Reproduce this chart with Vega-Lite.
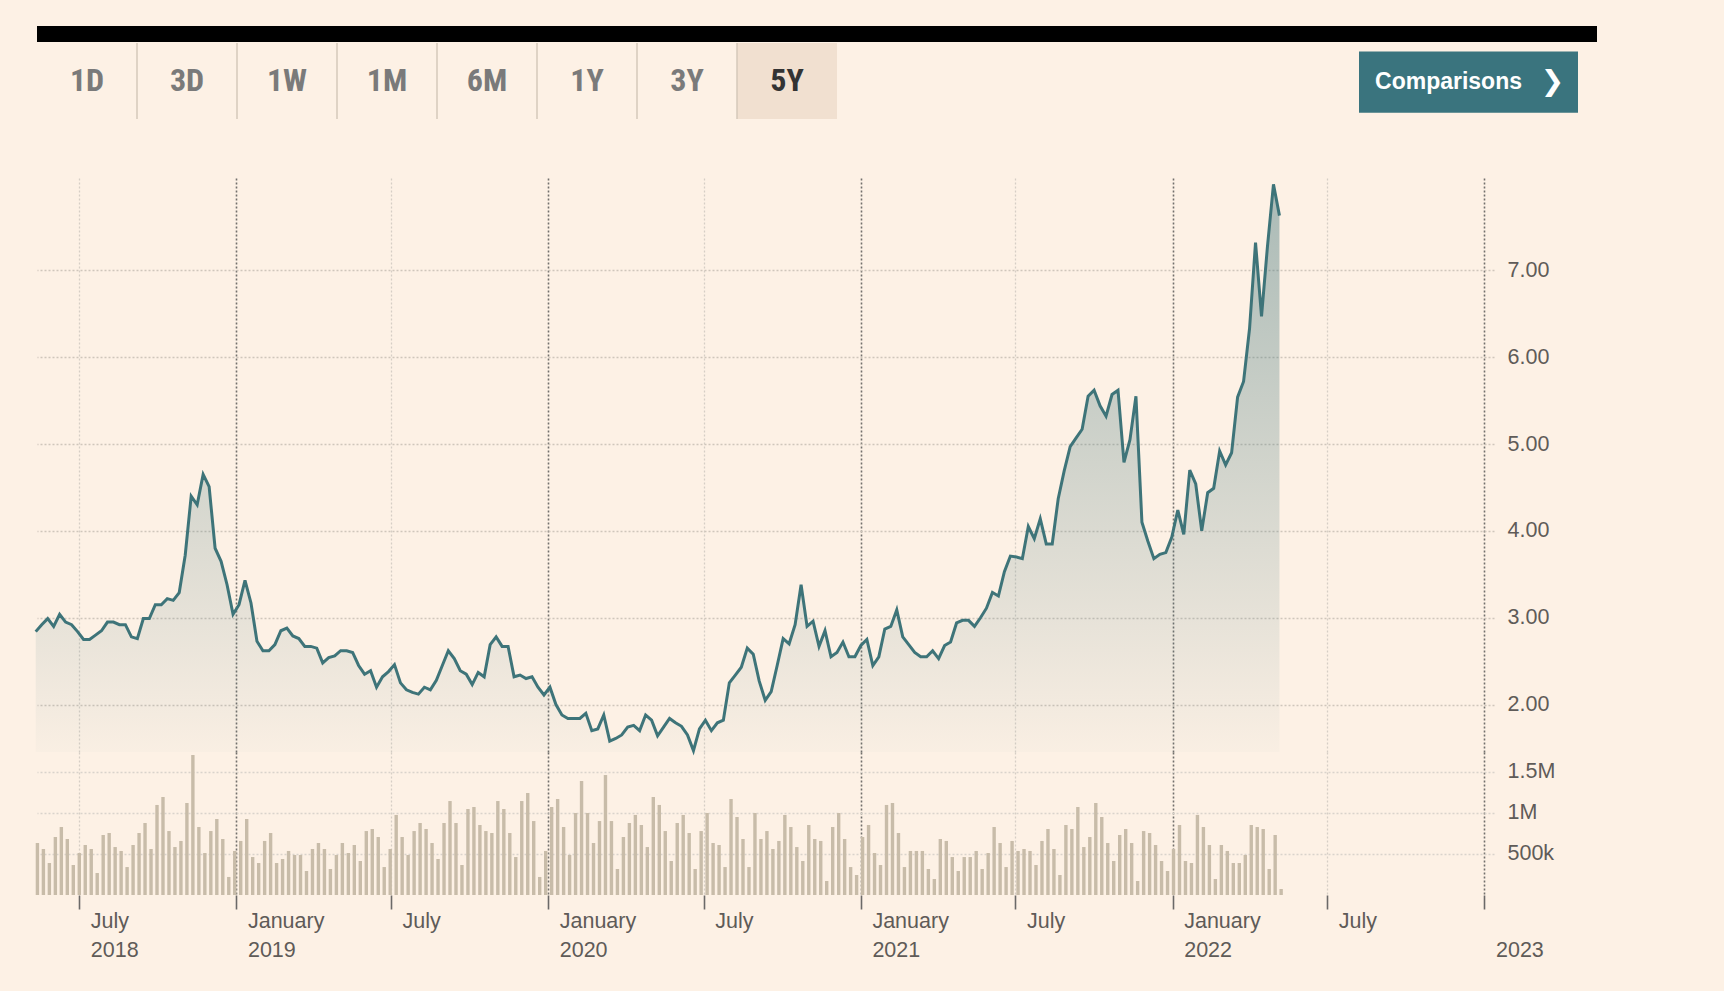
{
"$schema": "https://vega.github.io/schema/vega-lite/v6.json",
"background": "#fdf1e5",
"padding": {"left": 29, "top": 26, "right": 135, "bottom": 30},
"config": {"view": {"stroke": null}, "font": "Liberation Sans"},
"datasets": {
"header": [{"part": "bar"}],
"button": [{"label": "Comparisons", "icon": "❯"}],
"tabs": [
{"tab": "1D", "selected": false}, {"tab": "3D", "selected": false}, {"tab": "1W", "selected": false}, {"tab": "1M", "selected": false},
{"tab": "6M", "selected": false}, {"tab": "1Y", "selected": false}, {"tab": "3Y", "selected": false}, {"tab": "5Y", "selected": true}
],
"prices": [
{"date":"2018-05-11","price":2.84,"volume":634000},
{"date":"2018-05-18","price":2.92,"volume":561000},
{"date":"2018-05-25","price":2.99,"volume":390000},
{"date":"2018-06-01","price":2.90,"volume":707000},
{"date":"2018-06-08","price":3.04,"volume":829000},
{"date":"2018-06-15","price":2.95,"volume":683000},
{"date":"2018-06-22","price":2.92,"volume":366000},
{"date":"2018-06-29","price":2.84,"volume":512000},
{"date":"2018-07-06","price":2.75,"volume":610000},
{"date":"2018-07-13","price":2.75,"volume":561000},
{"date":"2018-07-20","price":2.80,"volume":268000},
{"date":"2018-07-27","price":2.85,"volume":732000},
{"date":"2018-08-03","price":2.95,"volume":756000},
{"date":"2018-08-10","price":2.95,"volume":585000},
{"date":"2018-08-17","price":2.92,"volume":537000},
{"date":"2018-08-24","price":2.92,"volume":341000},
{"date":"2018-08-31","price":2.78,"volume":610000},
{"date":"2018-09-07","price":2.76,"volume":756000},
{"date":"2018-09-14","price":2.99,"volume":878000},
{"date":"2018-09-21","price":2.99,"volume":561000},
{"date":"2018-09-28","price":3.15,"volume":1098000},
{"date":"2018-10-05","price":3.15,"volume":1195000},
{"date":"2018-10-12","price":3.22,"volume":780000},
{"date":"2018-10-19","price":3.20,"volume":585000},
{"date":"2018-10-26","price":3.29,"volume":659000},
{"date":"2018-11-02","price":3.72,"volume":1122000},
{"date":"2018-11-09","price":4.40,"volume":1707000},
{"date":"2018-11-16","price":4.30,"volume":829000},
{"date":"2018-11-23","price":4.65,"volume":512000},
{"date":"2018-11-30","price":4.51,"volume":780000},
{"date":"2018-12-07","price":3.80,"volume":927000},
{"date":"2018-12-14","price":3.65,"volume":683000},
{"date":"2018-12-21","price":3.38,"volume":220000},
{"date":"2018-12-28","price":3.04,"volume":537000},
{"date":"2019-01-04","price":3.15,"volume":659000},
{"date":"2019-01-11","price":3.43,"volume":927000},
{"date":"2019-01-18","price":3.17,"volume":463000},
{"date":"2019-01-25","price":2.73,"volume":390000},
{"date":"2019-02-01","price":2.62,"volume":659000},
{"date":"2019-02-08","price":2.62,"volume":756000},
{"date":"2019-02-15","price":2.69,"volume":390000},
{"date":"2019-02-22","price":2.85,"volume":439000},
{"date":"2019-03-01","price":2.88,"volume":537000},
{"date":"2019-03-08","price":2.79,"volume":488000},
{"date":"2019-03-15","price":2.76,"volume":488000},
{"date":"2019-03-22","price":2.67,"volume":293000},
{"date":"2019-03-29","price":2.67,"volume":561000},
{"date":"2019-04-05","price":2.65,"volume":634000},
{"date":"2019-04-12","price":2.48,"volume":561000},
{"date":"2019-04-19","price":2.54,"volume":317000},
{"date":"2019-04-26","price":2.56,"volume":488000},
{"date":"2019-05-03","price":2.62,"volume":634000},
{"date":"2019-05-10","price":2.62,"volume":512000},
{"date":"2019-05-17","price":2.60,"volume":610000},
{"date":"2019-05-24","price":2.45,"volume":415000},
{"date":"2019-05-31","price":2.35,"volume":780000},
{"date":"2019-06-07","price":2.39,"volume":805000},
{"date":"2019-06-14","price":2.20,"volume":707000},
{"date":"2019-06-21","price":2.32,"volume":341000},
{"date":"2019-06-28","price":2.38,"volume":561000},
{"date":"2019-07-05","price":2.46,"volume":976000},
{"date":"2019-07-12","price":2.25,"volume":707000},
{"date":"2019-07-19","price":2.17,"volume":488000},
{"date":"2019-07-26","price":2.14,"volume":780000},
{"date":"2019-08-02","price":2.12,"volume":878000},
{"date":"2019-08-09","price":2.20,"volume":805000},
{"date":"2019-08-16","price":2.17,"volume":634000},
{"date":"2019-08-23","price":2.28,"volume":439000},
{"date":"2019-08-30","price":2.45,"volume":878000},
{"date":"2019-09-06","price":2.62,"volume":1146000},
{"date":"2019-09-13","price":2.53,"volume":878000},
{"date":"2019-09-20","price":2.39,"volume":366000},
{"date":"2019-09-27","price":2.35,"volume":1049000},
{"date":"2019-10-04","price":2.23,"volume":1073000},
{"date":"2019-10-11","price":2.37,"volume":854000},
{"date":"2019-10-18","price":2.32,"volume":780000},
{"date":"2019-10-25","price":2.69,"volume":756000},
{"date":"2019-11-01","price":2.78,"volume":1146000},
{"date":"2019-11-08","price":2.67,"volume":1049000},
{"date":"2019-11-15","price":2.67,"volume":756000},
{"date":"2019-11-22","price":2.32,"volume":463000},
{"date":"2019-11-29","price":2.34,"volume":1146000},
{"date":"2019-12-06","price":2.30,"volume":1244000},
{"date":"2019-12-13","price":2.32,"volume":902000},
{"date":"2019-12-20","price":2.20,"volume":220000},
{"date":"2019-12-27","price":2.11,"volume":537000},
{"date":"2020-01-03","price":2.20,"volume":1073000},
{"date":"2020-01-10","price":2.00,"volume":1171000},
{"date":"2020-01-17","price":1.88,"volume":829000},
{"date":"2020-01-24","price":1.84,"volume":488000},
{"date":"2020-01-31","price":1.84,"volume":1000000},
{"date":"2020-02-07","price":1.84,"volume":1390000},
{"date":"2020-02-14","price":1.90,"volume":1000000},
{"date":"2020-02-21","price":1.70,"volume":634000},
{"date":"2020-02-28","price":1.72,"volume":902000},
{"date":"2020-03-06","price":1.88,"volume":1463000},
{"date":"2020-03-13","price":1.58,"volume":902000},
{"date":"2020-03-20","price":1.61,"volume":317000},
{"date":"2020-03-27","price":1.65,"volume":707000},
{"date":"2020-04-03","price":1.74,"volume":878000},
{"date":"2020-04-10","price":1.76,"volume":976000},
{"date":"2020-04-17","price":1.70,"volume":854000},
{"date":"2020-04-24","price":1.88,"volume":585000},
{"date":"2020-05-01","price":1.82,"volume":1195000},
{"date":"2020-05-08","price":1.64,"volume":1098000},
{"date":"2020-05-15","price":1.74,"volume":780000},
{"date":"2020-05-22","price":1.84,"volume":415000},
{"date":"2020-05-29","price":1.79,"volume":878000},
{"date":"2020-06-05","price":1.75,"volume":976000},
{"date":"2020-06-12","price":1.65,"volume":756000},
{"date":"2020-06-19","price":1.47,"volume":317000},
{"date":"2020-06-26","price":1.72,"volume":780000},
{"date":"2020-07-03","price":1.82,"volume":1000000},
{"date":"2020-07-10","price":1.70,"volume":634000},
{"date":"2020-07-17","price":1.79,"volume":610000},
{"date":"2020-07-24","price":1.82,"volume":341000},
{"date":"2020-07-31","price":2.25,"volume":1171000},
{"date":"2020-08-07","price":2.34,"volume":951000},
{"date":"2020-08-14","price":2.43,"volume":683000},
{"date":"2020-08-21","price":2.65,"volume":341000},
{"date":"2020-08-28","price":2.58,"volume":1000000},
{"date":"2020-09-04","price":2.27,"volume":683000},
{"date":"2020-09-11","price":2.05,"volume":780000},
{"date":"2020-09-18","price":2.15,"volume":561000},
{"date":"2020-09-25","price":2.45,"volume":659000},
{"date":"2020-10-02","price":2.76,"volume":976000},
{"date":"2020-10-09","price":2.70,"volume":829000},
{"date":"2020-10-16","price":2.92,"volume":585000},
{"date":"2020-10-23","price":3.38,"volume":415000},
{"date":"2020-10-30","price":2.90,"volume":854000},
{"date":"2020-11-06","price":2.96,"volume":683000},
{"date":"2020-11-13","price":2.67,"volume":659000},
{"date":"2020-11-20","price":2.85,"volume":171000},
{"date":"2020-11-27","price":2.55,"volume":829000},
{"date":"2020-12-04","price":2.60,"volume":1000000},
{"date":"2020-12-11","price":2.72,"volume":683000},
{"date":"2020-12-18","price":2.55,"volume":341000},
{"date":"2020-12-25","price":2.55,"volume":244000},
{"date":"2021-01-01","price":2.68,"volume":707000},
{"date":"2021-01-08","price":2.75,"volume":854000},
{"date":"2021-01-15","price":2.45,"volume":512000},
{"date":"2021-01-22","price":2.55,"volume":366000},
{"date":"2021-01-29","price":2.87,"volume":1098000},
{"date":"2021-02-05","price":2.90,"volume":1122000},
{"date":"2021-02-12","price":3.09,"volume":756000},
{"date":"2021-02-19","price":2.78,"volume":341000},
{"date":"2021-02-26","price":2.69,"volume":537000},
{"date":"2021-03-05","price":2.60,"volume":537000},
{"date":"2021-03-12","price":2.55,"volume":537000},
{"date":"2021-03-19","price":2.55,"volume":317000},
{"date":"2021-03-26","price":2.62,"volume":195000},
{"date":"2021-04-02","price":2.53,"volume":683000},
{"date":"2021-04-09","price":2.68,"volume":659000},
{"date":"2021-04-16","price":2.72,"volume":463000},
{"date":"2021-04-23","price":2.94,"volume":293000},
{"date":"2021-04-30","price":2.97,"volume":463000},
{"date":"2021-05-07","price":2.97,"volume":463000},
{"date":"2021-05-14","price":2.90,"volume":537000},
{"date":"2021-05-21","price":3.00,"volume":317000},
{"date":"2021-05-28","price":3.11,"volume":512000},
{"date":"2021-06-04","price":3.29,"volume":829000},
{"date":"2021-06-11","price":3.25,"volume":634000},
{"date":"2021-06-18","price":3.53,"volume":341000},
{"date":"2021-06-25","price":3.71,"volume":659000},
{"date":"2021-07-02","price":3.70,"volume":537000},
{"date":"2021-07-09","price":3.68,"volume":561000},
{"date":"2021-07-16","price":4.05,"volume":537000},
{"date":"2021-07-23","price":3.91,"volume":366000},
{"date":"2021-07-30","price":4.14,"volume":659000},
{"date":"2021-08-06","price":3.85,"volume":805000},
{"date":"2021-08-13","price":3.85,"volume":561000},
{"date":"2021-08-20","price":4.37,"volume":244000},
{"date":"2021-08-27","price":4.69,"volume":854000},
{"date":"2021-09-03","price":4.97,"volume":805000},
{"date":"2021-09-10","price":5.07,"volume":1073000},
{"date":"2021-09-17","price":5.17,"volume":585000},
{"date":"2021-09-24","price":5.55,"volume":707000},
{"date":"2021-10-01","price":5.62,"volume":1122000},
{"date":"2021-10-08","price":5.44,"volume":951000},
{"date":"2021-10-15","price":5.32,"volume":634000},
{"date":"2021-10-22","price":5.57,"volume":415000},
{"date":"2021-10-29","price":5.62,"volume":732000},
{"date":"2021-11-05","price":4.79,"volume":805000},
{"date":"2021-11-12","price":5.05,"volume":634000},
{"date":"2021-11-19","price":5.55,"volume":171000},
{"date":"2021-11-26","price":4.10,"volume":780000},
{"date":"2021-12-03","price":3.88,"volume":756000},
{"date":"2021-12-10","price":3.68,"volume":610000},
{"date":"2021-12-17","price":3.73,"volume":415000},
{"date":"2021-12-24","price":3.75,"volume":293000},
{"date":"2021-12-31","price":3.93,"volume":561000},
{"date":"2022-01-07","price":4.24,"volume":854000},
{"date":"2022-01-14","price":3.96,"volume":415000},
{"date":"2022-01-21","price":4.70,"volume":390000},
{"date":"2022-01-28","price":4.54,"volume":976000},
{"date":"2022-02-04","price":4.00,"volume":829000},
{"date":"2022-02-11","price":4.44,"volume":610000},
{"date":"2022-02-18","price":4.49,"volume":195000},
{"date":"2022-02-25","price":4.92,"volume":610000},
{"date":"2022-03-04","price":4.76,"volume":537000},
{"date":"2022-03-11","price":4.90,"volume":390000},
{"date":"2022-03-18","price":5.54,"volume":390000},
{"date":"2022-03-25","price":5.72,"volume":488000},
{"date":"2022-04-01","price":6.33,"volume":854000},
{"date":"2022-04-08","price":7.32,"volume":829000},
{"date":"2022-04-15","price":6.47,"volume":805000},
{"date":"2022-04-22","price":7.28,"volume":317000},
{"date":"2022-04-29","price":7.99,"volume":732000},
{"date":"2022-05-06","price":7.63,"volume":73000}
]
},
"spacing": 58,
"vconcat": [
{
"spacing": 0,
"vconcat": [
{"width": 1560, "height": 16, "data": {"name": "header"}, "mark": {"type": "rect", "color": "#000000"}, "encoding": {}},
{
"spacing": 522,
"hconcat": [
{
"width": 800, "height": 76, "data": {"name": "tabs"},
"encoding": {"x": {"field": "tab", "type": "nominal", "axis": null, "scale": {"domain": ["1D","3D","1W","1M","6M","1Y","3Y","5Y"], "paddingInner": 0, "paddingOuter": 0}}},
"layer": [
{"transform": [{"filter": "datum.selected"}], "mark": {"type": "rect", "color": "#f1e0d0"}},
{"transform": [{"filter": "datum.tab != '5Y'"}], "mark": {"type": "rule", "color": "#d5c8ba", "strokeWidth": 1.5}, "encoding": {"x": {"field": "tab", "type": "nominal", "bandPosition": 1}}},
{"mark": {"type": "text", "font": "Liberation Sans Narrow, Roboto Condensed, Liberation Sans", "fontSize": 32, "fontWeight": "bold", "baseline": "middle"},
 "encoding": {"text": {"field": "tab"}, "color": {"condition": {"test": "datum.selected", "value": "#333333"}, "value": "#7a7a7a"}}}
]
},
{
"width": 219, "height": 76, "data": {"name": "button"},
"encoding": {"y": {"field": "label", "type": "nominal", "axis": null, "scale": {"paddingInner": 0, "paddingOuter": 0.12, "align": 0.57}}},
"layer": [
{"mark": {"type": "rect", "color": "#3a747e"}},
{"mark": {"type": "text", "color": "#ffffff", "fontSize": 23, "fontWeight": "bold", "dx": -20, "baseline": "middle"}, "encoding": {"text": {"field": "label"}}},
{"mark": {"type": "text", "color": "#ffffff", "font": "DejaVu Sans", "fontSize": 28, "fontWeight": "bold", "dx": 84, "baseline": "middle"}, "encoding": {"text": {"field": "icon"}}}
]
}
]
}
]
},
{
"spacing": 0,
"bounds": "flush",
"vconcat": [
{
"width": 1457, "height": 574, "data": {"name": "prices"},
"encoding": {
"x": {"field": "date", "type": "temporal",
 "scale": {"type": "utc", "padding": 0, "domain": [{"year": 2018, "month": 5, "date": 12, "hours": 12, "utc": true}, {"year": 2023, "month": 1, "date": 12, "hours": 4, "utc": true}]},
 "axis": {"title": null, "labels": false, "ticks": false, "domain": false, "grid": true,
  "values": [{"year":2018,"month":7,"date":1,"utc":true},{"year":2019,"month":1,"date":1,"utc":true},{"year":2019,"month":7,"date":1,"utc":true},{"year":2020,"month":1,"date":1,"utc":true},{"year":2020,"month":7,"date":1,"utc":true},{"year":2021,"month":1,"date":1,"utc":true},{"year":2021,"month":7,"date":1,"utc":true},{"year":2022,"month":1,"date":1,"utc":true},{"year":2022,"month":7,"date":1,"utc":true},{"year":2023,"month":1,"date":1,"utc":true}],
  "gridColor": {"condition": {"test": "utcmonth(datum.value) === 0", "value": "#73706d"}, "value": "#d6cec5"},
  "gridWidth": {"condition": {"test": "utcmonth(datum.value) === 0", "value": 1.6}, "value": 1.3},
  "gridDash": [2, 2]}},
"y": {"field": "price", "type": "quantitative",
 "scale": {"domain": [1.454, 8.063], "zero": false, "nice": false},
 "axis": {"orient": "right", "title": null, "values": [2, 3, 4, 5, 6, 7], "format": ".2f", "ticks": false, "domain": false,
  "labelPadding": 13, "labelFontSize": 21.5, "labelColor": "#5f5b58", "labelAlign": "left", "labelBaseline": "middle",
  "gridColor": "#cfc6bb", "gridDash": [2, 2], "gridWidth": 1.3}}
},
"layer": [
{"mark": {"type": "area", "opacity": 1, "fill": {"gradient": "linear", "x1": 0, "y1": 0, "x2": 0, "y2": 1, "stops": [{"offset": 0, "color": "rgba(61,114,120,0.43)"}, {"offset": 1, "color": "rgba(61,114,120,0.02)"}]}},
 "encoding": {"y2": {"datum": 1.454}}},
{"mark": {"type": "line", "color": "#3e7479", "strokeWidth": 3}}
]
},
{
"width": 1457, "height": 143, "data": {"name": "prices"},
"mark": {"type": "bar", "color": "#c8bca9", "width": 3.4, "xOffset": 1.7},
"encoding": {
"x": {"field": "date", "type": "temporal",
 "scale": {"type": "utc", "padding": 0, "domain": [{"year": 2018, "month": 5, "date": 12, "hours": 12, "utc": true}, {"year": 2023, "month": 1, "date": 12, "hours": 4, "utc": true}]},
 "axis": {"title": null, "domain": false, "grid": true,
  "values": [{"year":2018,"month":7,"date":1,"utc":true},{"year":2019,"month":1,"date":1,"utc":true},{"year":2019,"month":7,"date":1,"utc":true},{"year":2020,"month":1,"date":1,"utc":true},{"year":2020,"month":7,"date":1,"utc":true},{"year":2021,"month":1,"date":1,"utc":true},{"year":2021,"month":7,"date":1,"utc":true},{"year":2022,"month":1,"date":1,"utc":true},{"year":2022,"month":7,"date":1,"utc":true},{"year":2023,"month":1,"date":1,"utc":true}],
  "labelExpr": "utcmonth(datum.value) === 0 ? (utcyear(datum.value) === 2023 ? ['', '2023'] : ['January', '' + utcyear(datum.value)]) : (utcyear(datum.value) === 2018 ? ['July', '2018'] : 'July')",
  "labelAlign": "left", "labelOffset": 11, "labelBaseline": "top", "labelPadding": 1, "labelLineHeight": 29,
  "labelFontSize": 21.5, "labelColor": "#5f5b58", "labelOverlap": false, "labelFlush": false, "labelBound": false,
  "tickSize": 14, "tickColor": "#6b6968", "tickWidth": 1.6,
  "gridColor": {"condition": {"test": "utcmonth(datum.value) === 0", "value": "#73706d"}, "value": "#d6cec5"},
  "gridWidth": {"condition": {"test": "utcmonth(datum.value) === 0", "value": 1.6}, "value": 1.3},
  "gridDash": [2, 2]}},
"y": {"field": "volume", "type": "quantitative",
 "scale": {"domain": [0, 1743900], "nice": false},
 "axis": {"orient": "right", "title": null, "values": [500000, 1000000, 1500000],
  "labelExpr": "datum.value >= 1500000 ? '1.5M' : (datum.value >= 1000000 ? '1M' : '500k')",
  "ticks": false, "domain": false, "labelPadding": 13, "labelFontSize": 21.5, "labelColor": "#5f5b58", "labelAlign": "left", "labelBaseline": "middle",
  "gridColor": "#d9d3cc", "gridDash": [2, 2], "gridWidth": 1.3}}
}
}
]
}
]
}
